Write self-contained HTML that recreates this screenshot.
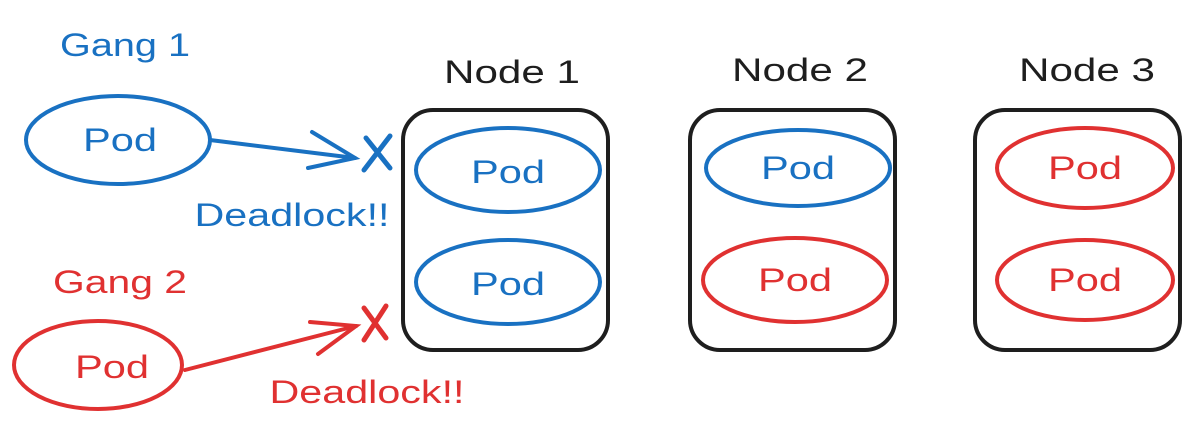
<!DOCTYPE html>
<html><head><meta charset="utf-8"><style>
html,body{margin:0;padding:0;background:#fff}
svg text{font-family:"Liberation Sans",sans-serif;}
</style></head><body>
<svg width="1203" height="439" viewBox="0 0 1203 439" xmlns="http://www.w3.org/2000/svg">
<g fill="none" stroke-width="4" stroke-linecap="round">
<ellipse cx="118" cy="140" rx="92" ry="44" stroke="#1971c2"/>
<line x1="210" y1="140" x2="355" y2="158" stroke="#1971c2"/>
<polyline points="312,132 355,158 308,168" stroke="#1971c2"/>
<path d="M366,138 L390,168 M390,136 L364,170" stroke="#1971c2" stroke-width="5"/>
<ellipse cx="98" cy="365" rx="84" ry="44" stroke="#e03131"/>
<line x1="185" y1="370" x2="356" y2="326" stroke="#e03131"/>
<polyline points="310,322 356,326 318,354" stroke="#e03131"/>
<path d="M364,308 L386,338 M386,306 L364,340" stroke="#e03131" stroke-width="5"/>
<rect x="403" y="110" width="205" height="240" rx="30" stroke="#1e1e1e"/>
<rect x="690" y="110" width="205" height="240" rx="30" stroke="#1e1e1e"/>
<rect x="975" y="110" width="205" height="240" rx="30" stroke="#1e1e1e"/>
<ellipse cx="508" cy="170" rx="92" ry="42" stroke="#1971c2"/>
<ellipse cx="508" cy="282" rx="92" ry="42" stroke="#1971c2"/>
<ellipse cx="798" cy="168" rx="92" ry="38" stroke="#1971c2"/>
<ellipse cx="795" cy="280" rx="92" ry="42" stroke="#e03131"/>
<ellipse cx="1085" cy="168" rx="88" ry="40" stroke="#e03131"/>
<ellipse cx="1085" cy="280" rx="88" ry="40" stroke="#e03131"/>
</g>
<g font-size="32" text-anchor="middle" dominant-baseline="central" lengthAdjust="spacingAndGlyphs">
<text x="125" y="45" fill="#1971c2" textLength="130" lengthAdjust="spacingAndGlyphs">Gang 1</text>
<text x="120" y="282" fill="#e03131" textLength="134" lengthAdjust="spacingAndGlyphs">Gang 2</text>
<text x="120" y="140" fill="#1971c2" textLength="74" lengthAdjust="spacingAndGlyphs">Pod</text>
<text x="112" y="367" fill="#e03131" textLength="74" lengthAdjust="spacingAndGlyphs">Pod</text>
<text x="292" y="215" fill="#1971c2" textLength="195" lengthAdjust="spacingAndGlyphs">Deadlock!!</text>
<text x="367" y="392" fill="#e03131" textLength="195" lengthAdjust="spacingAndGlyphs">Deadlock!!</text>
<text x="512" y="72" fill="#1e1e1e" textLength="136" lengthAdjust="spacingAndGlyphs">Node 1</text>
<text x="800" y="70" fill="#1e1e1e" textLength="136" lengthAdjust="spacingAndGlyphs">Node 2</text>
<text x="1087" y="70" fill="#1e1e1e" textLength="136" lengthAdjust="spacingAndGlyphs">Node 3</text>
<text x="508" y="172" fill="#1971c2" textLength="74" lengthAdjust="spacingAndGlyphs">Pod</text>
<text x="508" y="284" fill="#1971c2" textLength="74" lengthAdjust="spacingAndGlyphs">Pod</text>
<text x="798" y="168" fill="#1971c2" textLength="74" lengthAdjust="spacingAndGlyphs">Pod</text>
<text x="795" y="280" fill="#e03131" textLength="74" lengthAdjust="spacingAndGlyphs">Pod</text>
<text x="1085" y="168" fill="#e03131" textLength="74" lengthAdjust="spacingAndGlyphs">Pod</text>
<text x="1085" y="280" fill="#e03131" textLength="74" lengthAdjust="spacingAndGlyphs">Pod</text>
</g>
</svg>
</body></html>
